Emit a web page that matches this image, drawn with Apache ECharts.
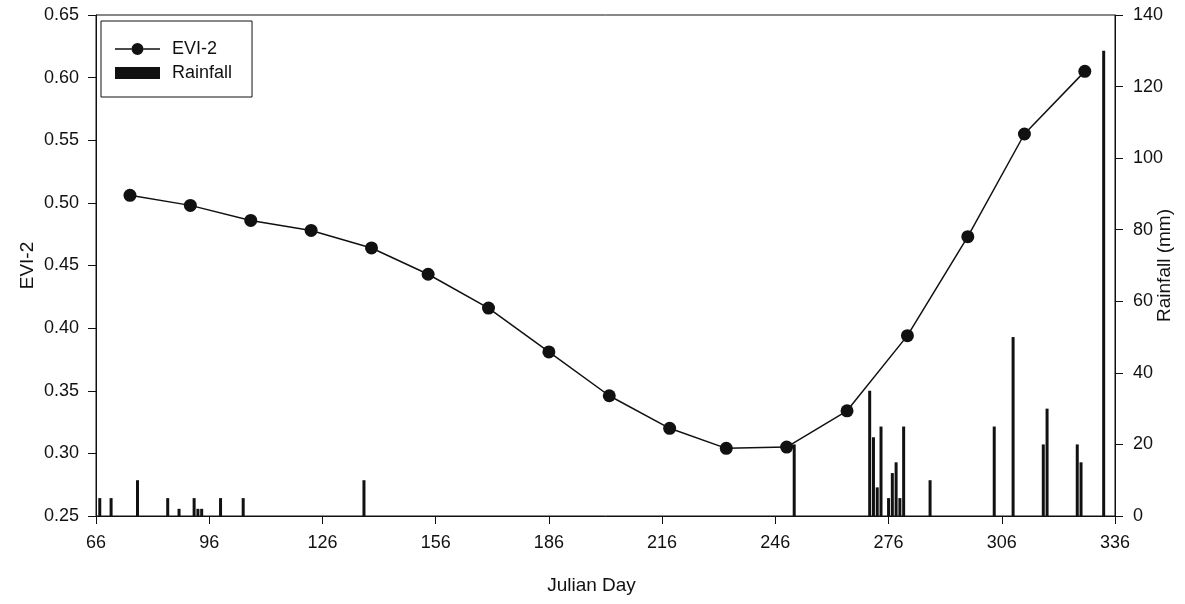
<!DOCTYPE html>
<html>
<head>
<meta charset="utf-8">
<title>EVI-2 and Rainfall</title>
<script src="https://cdn.jsdelivr.net/npm/echarts@6/dist/echarts.min.js"></script>
<style>
  html, body { margin: 0; padding: 0; background: #fff; }
  #chart { width: 1185px; height: 604px; }
</style>
</head>
<body>
<div id="chart"></div>
<script>
// EVI-2 composites (julian day, value)
const eviDays = [75, 91, 107, 123, 139, 154, 170, 186, 202, 218, 233, 249, 265, 281, 297, 312, 328];
const eviValues = [0.506, 0.498, 0.486, 0.478, 0.464, 0.443, 0.416, 0.381, 0.346, 0.320, 0.304, 0.305, 0.334, 0.394, 0.473, 0.555, 0.605];

// daily rainfall events (julian day, mm)
const rainDays = [67, 70, 77, 85, 88, 92, 93, 94, 99, 105, 137, 251, 271, 272, 273, 274, 276, 277, 278, 279, 280, 287, 304, 309, 317, 318, 326, 327, 333];
const rainValues = [5, 5, 10, 5, 2, 5, 2, 2, 5, 5, 10, 20, 35, 22, 8, 25, 5, 12, 15, 5, 25, 10, 25, 50, 20, 30, 20, 15, 130];

const xTicks = { min: 66, max: 336, step: 30 };

const FONT = "Liberation Sans, Arial, sans-serif";
const INK = "#111";

// legend icon: line with a dot in the middle (45 x 12 box)
const LINE_DOT_ICON =
  "path://M0,5.3H16.5V6.7H0Z M28.5,5.3H45V6.7H28.5Z " +
  "M16.5,6A6,6 0 1,1 28.5,6A6,6 0 1,1 16.5,6Z";

function chart() {
  const chartDom = document.getElementById("chart");
  const myChart = echarts.init(chartDom, null, { renderer: "canvas" });

  const axisCommon = {
    axisLine: { show: true, lineStyle: { color: INK, width: 1 } },
    axisTick: { show: true, inside: false, length: 8, lineStyle: { color: INK } },
    splitLine: { show: false },
    axisLabel: { color: INK, fontFamily: FONT, fontSize: 18 },
    nameTextStyle: { color: INK, fontFamily: FONT, fontSize: 19 },
    nameMoveOverlap: false,
  };

  const option = {
    animation: false,
    backgroundColor: "#fff",
    textStyle: { fontFamily: FONT },
    grid: {
      left: 96,
      right: 70,
      top: 15,
      bottom: 88,
      show: true,
      borderColor: INK,
      borderWidth: 1,
      containLabel: false,
      outerBoundsMode: "none",
    },
    legend: {
      orient: "vertical",
      left: 101,
      top: 21,
      padding: [19, 20, 15, 14],
      itemGap: 6,
      itemWidth: 45,
      itemHeight: 12,
      borderColor: INK,
      borderWidth: 1,
      borderRadius: 0,
      backgroundColor: "#fff",
      textStyle: {
        color: INK,
        fontFamily: FONT,
        fontSize: 18,
        padding: [0, 0, 0, 7],
      },
      data: [
        { name: "EVI-2", icon: LINE_DOT_ICON },
        { name: "Rainfall", icon: "rect" },
      ],
    },
    xAxis: {
      ...axisCommon,
      type: "value",
      min: xTicks.min,
      max: xTicks.max,
      interval: xTicks.step,
      name: "Julian Day",
      nameLocation: "middle",
      nameGap: 60,
      nameTextStyle: { ...axisCommon.nameTextStyle, padding: [0, 28, 0, 0] },
      axisLabel: { ...axisCommon.axisLabel, margin: 18 },
    },
    yAxis: [
      {
        ...axisCommon,
        type: "value",
        min: 0.25,
        max: 0.65,
        interval: 0.05,
        name: "EVI-2",
        nameLocation: "middle",
        nameGap: 59,
        nameRotate: 90,
        axisLabel: {
          ...axisCommon.axisLabel,
          margin: 17,
          formatter: (v) => v.toFixed(2),
        },
      },
      {
        ...axisCommon,
        type: "value",
        position: "right",
        min: 0,
        max: 140,
        interval: 20,
        name: "Rainfall (mm)",
        nameLocation: "middle",
        nameGap: 40,
        nameRotate: 90,
        axisLabel: { ...axisCommon.axisLabel, margin: 18 },
      },
    ],
    series: [
      {
        name: "Rainfall",
        type: "bar",
        yAxisIndex: 1,
        barWidth: 3,
        itemStyle: { color: INK },
        data: rainDays.map((d, i) => [d, rainValues[i]]),
        z: 1,
      },
      {
        name: "EVI-2",
        type: "line",
        yAxisIndex: 0,
        symbol: "circle",
        symbolSize: 13,
        lineStyle: { color: INK, width: 1.5 },
        itemStyle: { color: INK },
        data: eviDays.map((d, i) => [d, eviValues[i]]),
        z: 3,
      },
    ],
  };

  myChart.setOption(option);
}

chart();
</script>
</body>
</html>
